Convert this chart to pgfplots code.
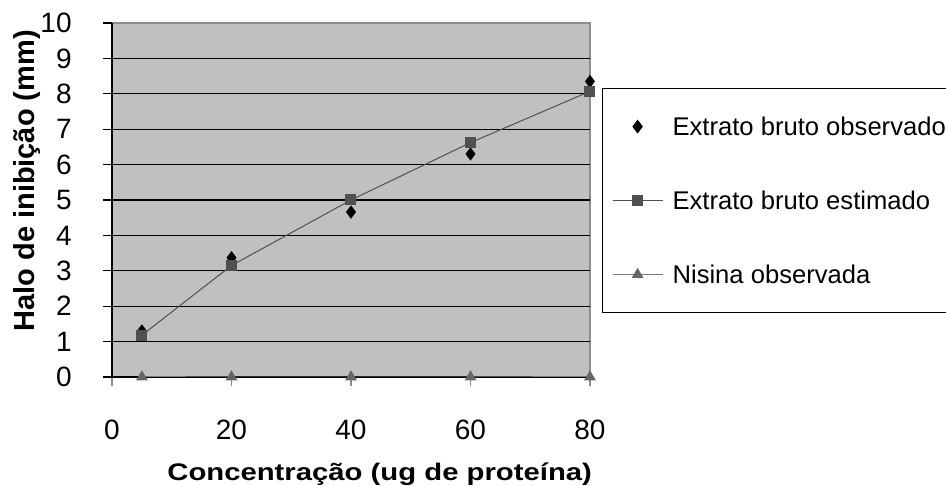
\documentclass[border=0pt]{standalone}
\usepackage{fontspec}
\setmainfont{Liberation Sans}
\newfontfamily\xlabfont{Liberation Sans}[FakeStretch=1.22]
\usepackage{pgfplots}
\pgfplotsset{compat=1.18}
\definecolor{plotbg}{HTML}{C0C0C0}
\definecolor{borderg}{HTML}{8C8C8C}
\definecolor{estg}{HTML}{505050}
\definecolor{nisg}{HTML}{666666}
\definecolor{nisline}{HTML}{7A7A7A}
\pgfplotsset{
  legimg/.style={legend image code/.code={%
    \path[draw=none,fill=none] (0pt,-18.5pt) rectangle (34.5pt,18.5pt);
    \draw[mark repeat=2,mark phase=2,##1] plot coordinates {(4.5pt,0pt) (17pt,0pt) (29.5pt,0pt)};}}
}
\begin{document}
\begin{tikzpicture}
\useasboundingbox (0,0) rectangle (473pt,243pt);
\begin{axis}[
  at={(56pt,54.5pt)}, anchor=south west,
  scale only axis, width=239pt, height=177pt,
  xmin=0, xmax=80, ymin=0, ymax=10,
  xtick={0,20,40,60,80}, ytick={0,1,...,9},
  extra y ticks={10}, extra y tick style={grid=none},
  /pgf/number format/assume math mode=true,
  axis lines=left,
  axis line style={-, black, line width=0.6pt},
  axis background/.style={fill=plotbg, draw=borderg, line width=0.6pt},
  ymajorgrids, grid style={black, line width=0.6pt},
  tick align=outside, major tick length=4.5pt,
  ytick style={black, line width=0.6pt},
  xtick style={borderg, line width=0.6pt},
  ticklabel style={font=\fontsize{14}{16}\selectfont},
  yticklabel style={inner sep=0pt, anchor=east, xshift=-15.5pt},
  xticklabel style={inner sep=0pt, anchor=north, yshift=-17pt},
  xlabel={Concentração (ug de proteína)},
  ylabel={Halo de inibição (mm)},
  xlabel style={font=\xlabfont\bfseries\fontsize{12}{14}\selectfont,
    at={(axis description cs:0.56,0)}, anchor=north, inner sep=0pt, yshift=-42.5pt},
  ylabel style={font=\bfseries\fontsize{14.5}{16}\selectfont,
    at={(axis description cs:-0.1496,0.554)}, anchor=south, inner sep=0pt},
  clip=false,
  legend style={at={(axis description cs:1.0251,0.8164)}, anchor=north west,
    draw=black, line width=0.6pt, fill=white,
    inner xsep=0.5pt, inner ysep=0.5pt, row sep=0pt, column sep=0pt,
    font=\fontsize{12.8}{14}\selectfont,
    nodes={draw=none, inner sep=0pt, text height=23.08pt, text depth=13.92pt}},
  legend cell align=left,
]
\addplot[only marks, mark=diamond*, mark size=3pt, black, legimg] coordinates {
  (5,1.3) (20,3.37) (40,4.66) (60,6.3) (80,8.35)};
\addlegendentry{Extrato bruto observado}
\addplot[estg, line width=0.5pt, mark=square*, mark size=2.5pt, mark options={estg}, legimg] coordinates {
  (5,1.18) (20,3.15) (40,5.0) (60,6.62) (80,8.07)};
\addlegendentry{Extrato bruto estimado}
\addplot[nisline, line width=0.5pt, mark=triangle*, mark size=2.9pt, mark options={nisg}, legimg] coordinates {
  (5,0) (20,0) (40,0) (60,0) (80,0)};
\addlegendentry{Nisina observada}
\end{axis}
\end{tikzpicture}
\end{document}
